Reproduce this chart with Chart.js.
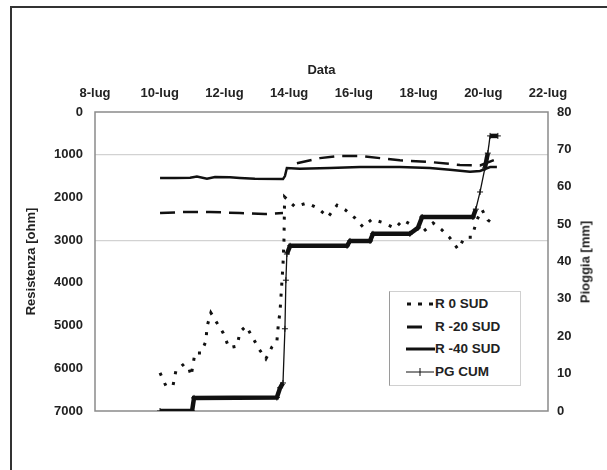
<!DOCTYPE html>
<html><head><meta charset="utf-8">
<script src="https://cdn.jsdelivr.net/npm/chart.js@4"></script>
<style>
html,body{margin:0;padding:0;background:#fff;}
#wrap{position:relative;width:607px;height:470px;overflow:hidden;font-family:"Liberation Sans",Arial,sans-serif;background:#fff;}
#frame{position:absolute;left:10px;top:6px;width:700px;height:600px;border:2px solid #333;box-sizing:border-box;}
#c{position:absolute;left:0;top:0;}
#ytitle2{position:absolute;left:585px;top:262px;transform:translate(-50%,-50%) rotate(-90deg);font-weight:bold;font-size:13px;color:#222;white-space:nowrap;}
#legend{position:absolute;left:389px;top:291px;width:132px;height:95px;border:1px solid #d0d0d0;border-left-color:#9a9a9a;box-sizing:border-box;background:#fff;}
.row{position:absolute;left:0;width:130px;height:20px;}
.row svg{position:absolute;left:15px;top:4px;}
.row span{position:absolute;left:45px;top:2px;font-weight:bold;font-size:13.5px;color:#222;white-space:nowrap;}
</style>
</head><body>
<div id="wrap">
<div id="frame"></div>
<canvas id="c" width="607" height="470"></canvas>
<div id="ytitle2">Pioggia [mm]</div>
<div id="legend">
 <div class="row" style="top:2px"><svg width="30" height="12"><line x1="2" y1="6" x2="28" y2="6" stroke="#111" stroke-width="3" stroke-dasharray="4,7"/></svg><span>R 0 SUD</span></div>
 <div class="row" style="top:25px"><svg width="30" height="12"><line x1="2" y1="6" x2="17" y2="6" stroke="#111" stroke-width="3"/></svg><span>R -20 SUD</span></div>
 <div class="row" style="top:47px"><svg width="30" height="12"><line x1="1" y1="6" x2="30" y2="6" stroke="#111" stroke-width="3"/></svg><span>R -40 SUD</span></div>
 <div class="row" style="top:70px"><svg width="30" height="12"><line x1="1" y1="6" x2="29" y2="6" stroke="#111" stroke-width="1"/><line x1="15" y1="2" x2="15" y2="10" stroke="#111" stroke-width="1"/></svg><span>PG CUM</span></div>
</div>
</div>
<script>
// ---- data (x = day of July) ----
const monthLabel = 'lug';
const xTickStart = 8, xTickEnd = 22, xTickStep = 2;

const r0Days = [10.01,10.19,10.41,10.50,10.75,10.90,10.97,11.09,11.28,11.43,11.46,11.58,11.77,11.96,12.14,12.39,12.48,12.67,12.88,13.07,13.28,13.47,13.62,13.66,13.72,13.81,13.84,13.86,13.96,14.18,14.55,14.89,15.20,15.48,15.73,16.03,16.28,16.56,16.90,17.27,17.52,17.89,18.10,18.45,18.72,18.97,19.22,19.43,19.65,19.80,19.96,20.14,20.27];
const r0Ohm  = [6110,6410,6410,6060,5900,5990,6180,5640,5640,5360,5030,4700,4940,5170,5520,5480,5150,5010,5290,5550,5780,5500,5380,5030,4650,3580,3000,1990,2060,2220,2130,2250,2460,2180,2290,2480,2690,2510,2590,2720,2530,2690,2830,2600,2760,2950,3210,2930,2930,2530,2290,2530,2600];

const r20Days = [10.01,10.78,11.55,12.48,13.25,13.81,13.90,14.24,14.95,15.57,16.19,16.81,17.42,18.35,19.28,19.90,20.42];
const r20Ohm  = [2365,2340,2340,2365,2390,2365,null,1200,1080,1030,1030,1080,1130,1170,1240,1250,1100];

const r40Days = [10.01,10.47,10.94,11.15,11.46,11.71,12.17,12.48,12.94,13.81,13.87,13.93,14.33,15.26,16.19,16.81,17.42,18.35,18.97,19.59,19.90,20.21,20.42];
const r40Ohm  = [1545,1545,1540,1510,1560,1520,1530,1545,1565,1570,1500,1310,1330,1310,1290,1290,1290,1310,1350,1400,1380,1290,1290];

const pgDays = [10.01,11.00,11.06,13.62,13.72,13.81,13.87,13.90,13.93,14.03,15.79,15.88,16.50,16.59,17.73,17.98,18.11,19.68,19.77,19.90,20.05,20.14,20.21,20.45];
const pgMm   = [0,0,3.5,3.6,6.2,7.5,22,35,42,44.2,44.2,45.5,45.5,47.4,47.4,49,51.9,51.9,54,58.6,65,69,73.6,73.6];

const yTicksLeft = {min:0, max:7000, step:1000};
const yTicksRight = {min:0, max:80, step:10};
const gridValues = [1000, 3000];

// ---- build ----
const pts = (xs, ys) => xs.map((x, i) => ({x, y: ys[i]}));
const ink = '#111';
const txt = '#222';
const font = {family:'"Liberation Sans", Arial, sans-serif', size:13, weight:'bold'};

const areaFrame = {
  id:'areaFrame',
  beforeDatasetsDraw(c){
    const a = c.chartArea, ctx = c.ctx;
    ctx.save(); ctx.strokeStyle = '#8a8a8a'; ctx.lineWidth = 1.5;
    ctx.strokeRect(a.left, a.top, a.right - a.left, a.bottom - a.top);
    ctx.restore();
  }
};

new Chart(document.getElementById('c'), {
  type:'line',
  data:{datasets:[
    {label:'R 0 SUD', data:pts(r0Days, r0Ohm), yAxisID:'y', borderColor:ink, borderWidth:3, borderDash:[3,8], pointRadius:0, tension:0, fill:false},
    {label:'R -20 SUD', data:pts(r20Days, r20Ohm), yAxisID:'y', borderColor:ink, borderWidth:2.5, borderDash:[15,8], pointRadius:0, spanGaps:false, fill:false},
    {label:'R -40 SUD', data:pts(r40Days, r40Ohm), yAxisID:'y', borderColor:ink, borderWidth:2.5, pointRadius:0, fill:false},
    {label:'PG CUM', data:pts(pgDays, pgMm), yAxisID:'y1', borderColor:ink, pointStyle:'cross', pointRadius:3, pointBorderWidth:1, pointBorderColor:ink,
     segment:{borderWidth: s => Math.abs(s.p1.parsed.y - s.p0.parsed.y) > 4 ? 1.3 : 4.5}, fill:false}
  ]},
  options:{
    responsive:false, animation:false, devicePixelRatio:1,
    layout:{padding:{left:20, top:55, right:0, bottom:59}},
    plugins:{legend:{display:false}, tooltip:{enabled:false}},
    scales:{
      x:{type:'linear', position:'top', min:xTickStart, max:xTickEnd,
        ticks:{stepSize:xTickStep, color:txt, font, padding:11, maxRotation:0, callback:v => v + '-' + monthLabel},
        grid:{display:false, drawTicks:false}, border:{display:false},
        title:{display:true, text:'Data', color:txt, font, padding:{top:8, bottom:0}},
        afterFit: s => { s.height = 57; }
      },
      y:{type:'linear', position:'left', reverse:true, min:yTicksLeft.min, max:yTicksLeft.max,
        ticks:{stepSize:yTicksLeft.step, color:txt, font, padding:12, callback:v => String(v)},
        grid:{drawTicks:false, lineWidth:1.2, color: c => gridValues.includes(c.tick && c.tick.value) ? '#d2d2d2' : 'rgba(0,0,0,0)'},
        border:{display:false},
        title:{display:true, text:'Resistenza [ohm]', color:txt, font, padding:{top:4, bottom:0}},
        afterFit: s => { s.width = 75; }
      },
      y1:{type:'linear', position:'right', min:yTicksRight.min, max:yTicksRight.max,
        ticks:{stepSize:yTicksRight.step, color:txt, font, padding:9, callback:v => String(v)},
        grid:{display:false, drawTicks:false}, border:{display:false},
        afterFit: s => { s.width = 59; }
      }
    }
  },
  plugins:[areaFrame]
});
</script>
</body></html>
